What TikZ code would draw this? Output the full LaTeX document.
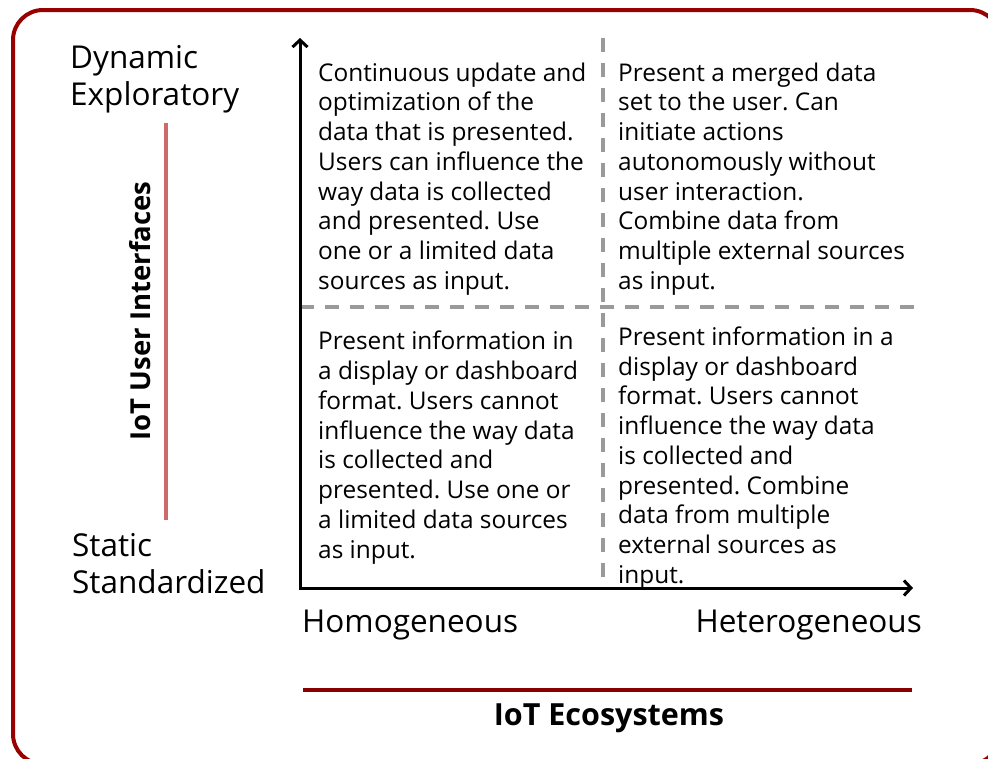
\documentclass[tikz,border=0pt]{standalone}
\usepackage{fontspec}
\setmainfont{Open Sans}
\usetikzlibrary{arrows.meta}
\frenchspacing

\definecolor{framered}{HTML}{990000}
\definecolor{sidered}{HTML}{CD6A6A}
\definecolor{ecored}{HTML}{880000}
\definecolor{gridgray}{HTML}{9A9A9A}

\tikzset{
  axisline/.style={line width=3pt, black, {Straight Barb[length=7pt,width=15pt,line width=3pt]}-{Straight Barb[length=7pt,width=15pt,line width=3pt]}},
  gridline/.style={line width=3.5pt, gridgray, dash pattern=on 14pt off 11pt},
  cell/.style={anchor=north west, inner sep=0pt, align=left, font=\fontsize{24.4}{29.75}\selectfont},
  endlabel/.style={inner sep=0pt, align=left, font=\fontsize{31.5}{37}\selectfont},
  title/.style={inner sep=0pt, font=\bfseries\fontsize{30.5}{36}\selectfont},
}

\begin{document}
\begin{tikzpicture}[x=1pt, y=-1pt]
\useasboundingbox (0,0) rectangle (988,758);
\clip (0,0) rectangle (988,758);

% outer frame
\draw[framered, line width=4pt, rounded corners=30pt] (13,10) rectangle (1000,764);

% quadrant dividers
\coordinate (hl) at (300,307);
\coordinate (hr) at (915,307);
\coordinate (vt) at (603,38);
\coordinate (vb) at (603,590);
\draw[gridline] (hl) -- (hr);
\draw[gridline] (vt) -- (vb);

% axes
\coordinate (ytop) at (300,38);
\coordinate (origin) at (300,588);
\coordinate (xend) at (913,588);
\draw[axisline] (ytop) -- (origin) -- (xend);

% axis title rules
\coordinate (st) at (166,123);
\coordinate (sb) at (166,520);
\draw[sidered, line width=3.5pt] (st) -- (sb);
\coordinate (el) at (303,690);
\coordinate (er) at (912,690);
\draw[ecored, line width=3.5pt] (el) -- (er);

% axis titles
\node[title, rotate=90, font=\bfseries\fontsize{27.5}{32}\selectfont] (uit) at (140,311) {IoT User Interfaces};
\node[title] (eco) at (609,718) {IoT Ecosystems};

% axis end labels
\node[endlabel, anchor=north west] (dyn) at (70,45) {Dynamic\\Exploratory};
\node[endlabel, anchor=north west] (sta) at (72,533.5) {Static\\Standardized};
\node[endlabel, anchor=base west] (hom) at (302,632) {Homogeneous};
\node[endlabel, anchor=base east] (het) at (922,632) {Heterogeneous};

% quadrant descriptions
\node[cell] (q1) at (318,62.5) {Continuous update and\\optimization of the\\data that is presented.\\Users can influence the\\way data is collected\\and presented. Use\\one or a limited data\\sources as input.};
\node[cell] (q2) at (618,62.5) {Present a merged data\\set to the user. Can\\initiate actions\\autonomously without\\user interaction.\\Combine data from\\multiple external sources\\as input.};
\node[cell] (q3) at (318,331) {Present information in\\a display or dashboard\\format. Users cannot\\influence the way data\\is collected and\\presented. Use one or\\a limited data sources\\as input.};
\node[cell] (q4) at (618,326.5) {Present information in a\\display or dashboard\\format. Users cannot\\influence the way data\\is collected and\\presented. Combine\\data from multiple\\external sources as\\input.};
\end{tikzpicture}
\end{document}
